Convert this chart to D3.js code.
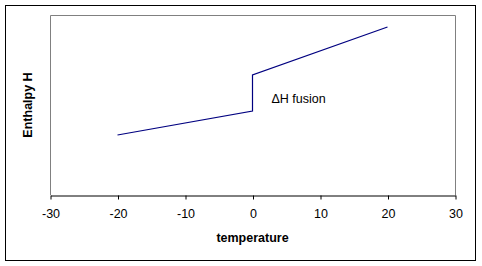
<!DOCTYPE html>
<html>
<head>
<meta charset="utf-8">
<script src="https://cdn.jsdelivr.net/npm/d3@7"></script>
<style>
  body { margin: 0; background: #fff; }
  text { font-family: "Liberation Sans", Arial, sans-serif; }
</style>
</head>
<body>
<svg id="chart" width="482" height="266"></svg>
<script>
// data: heating curve through the melting point
const temperature = [-20, 0, 0, 20];
const enthalpy = [30, 42, 60, 84];
const xTicks = [-30, -20, -10, 0, 10, 20, 30];
const annotation = { t: 2.8, h: 46, label: 'ΔH fusion' };

const svg = d3.select('#chart');
const plot = { left: 50, right: 455, top: 15, bottom: 195 };

// outer frame
svg.append('rect')
  .attr('x', 5.5).attr('y', 5.5)
  .attr('width', 470).attr('height', 255)
  .attr('fill', '#fff')
  .attr('stroke', '#000');

const x = d3.scaleLinear().domain([-30, 30]).range([plot.left, plot.right]);
const y = d3.scaleLinear().domain([0, 90]).range([plot.bottom, plot.top]);

// plot area border (grey, top/left/right)
svg.append('path')
  .attr('d', `M${plot.left + 0.5},${plot.bottom}V${plot.top + 0.5}H${plot.right + 0.5}V${plot.bottom}`)
  .attr('fill', 'none')
  .attr('stroke', '#808080');

// x axis - plain hyphen for negatives, like the original
const xAxis = svg.append('g')
  .attr('transform', `translate(0.5,${plot.bottom + 0.5})`)
  .call(d3.axisBottom(x)
    .tickValues(xTicks)
    .tickFormat(d => String(d))
    .tickSize(4).tickSizeOuter(0).tickPadding(10));

xAxis.select('.domain').attr('stroke', '#000');
xAxis.selectAll('.tick line').attr('stroke', '#000');
xAxis.selectAll('.tick text')
  .attr('fill', '#000')
  .style('font-size', '12.5px')
  .style('font-family', '"Liberation Sans", Arial, sans-serif');

// the curve
const line = d3.line()
  .x((d, i) => x(temperature[i]))
  .y(d => y(d));

svg.append('path')
  .datum(enthalpy)
  .attr('d', line)
  .attr('fill', 'none')
  .attr('stroke', '#000080')
  .attr('stroke-width', 1.2);

// annotation
svg.append('text')
  .attr('x', x(annotation.t))
  .attr('y', y(annotation.h))
  .attr('font-size', 12.5)
  .attr('fill', '#000')
  .text(annotation.label);

// axis titles
svg.append('text')
  .attr('x', x(0))
  .attr('y', 242)
  .attr('text-anchor', 'middle')
  .attr('font-size', 12.5)
  .attr('font-weight', 'bold')
  .text('temperature');

svg.append('text')
  .attr('transform', 'translate(32,105) rotate(-90)')
  .attr('text-anchor', 'middle')
  .attr('font-size', 12.5)
  .attr('font-weight', 'bold')
  .text('Enthalpy H');
</script>
</body>
</html>
